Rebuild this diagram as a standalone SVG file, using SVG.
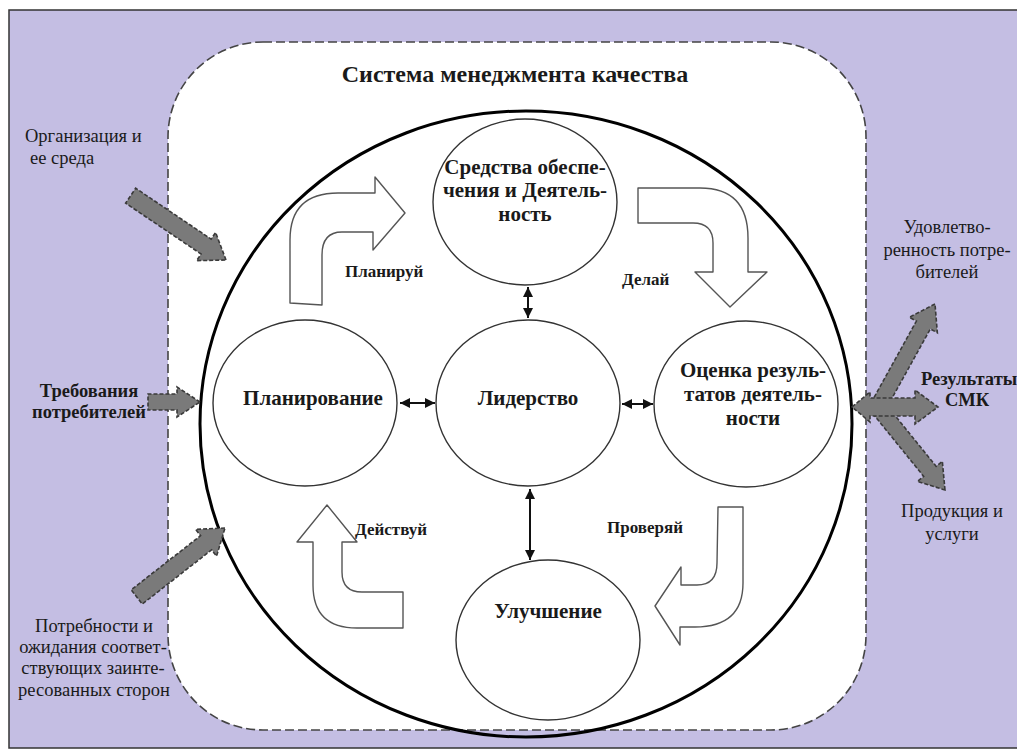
<svg xmlns="http://www.w3.org/2000/svg" width="1017" height="756" viewBox="0 0 1017 756">
<style>
.t{font-family:"Liberation Serif","Times New Roman",serif;fill:#1a1a1a}
.b{font-weight:bold}
.c{text-anchor:middle}
.node{fill:#fff;stroke:#333;stroke-width:1.4}
.blk{fill:#fff;stroke:#555;stroke-width:1.4;stroke-linejoin:round}
.gray{fill:#7a7a7a;stroke:#3a3a3a;stroke-width:1.6;stroke-dasharray:4 2}
.dbl{stroke:#111;stroke-width:2;fill:none;marker-start:url(#ah);marker-end:url(#ah)}
.lab{font-size:18.5px}
.nt{font-size:21px}
.pd{font-size:17px}
</style>
<defs>
<marker id="ah" viewBox="0 0 10 10" refX="10" refY="5" markerWidth="5" markerHeight="5" orient="auto-start-reverse" markerUnits="strokeWidth">
<path d="M0,0 L10,5 L0,10 Z" fill="#111"/>
</marker>
</defs>
<rect x="0" y="0" width="1017" height="756" fill="#fff"/>
<rect x="9" y="10" width="1030" height="738" fill="#c4bee3" stroke="#333" stroke-width="1.5"/>
<rect id="qms" x="168" y="42" width="698" height="688" rx="95" ry="95" fill="#fff" stroke="#444" stroke-width="1.6" stroke-dasharray="9 4"/>
<text class="t b c" x="515" y="82" font-size="24">Система менеджмента качества</text>
<ellipse cx="526" cy="424" rx="326" ry="313" fill="none" stroke="#000" stroke-width="3"/>

<g id="connectors">
<line class="dbl" x1="400" y1="403" x2="435" y2="403"/>
<line class="dbl" x1="622" y1="404" x2="653" y2="404"/>
<line class="dbl" x1="528" y1="287" x2="528" y2="318"/>
<line class="dbl" x1="530" y1="489" x2="530" y2="560"/>
<path class="blk" d="M290,303 L290,240 Q290,193 338,193 L375,193 L375,177 L405,213 L373,250 L373,232 L342,232 Q322,232 322,255 L322,305 Z"/>
<path class="blk" d="M638,188 L700,188 Q748,188 748,238 L748,272 L767,272 L730,307 L695,272 L713,272 L713,243 Q713,223 693,223 L638,223 Z"/>
<path class="blk" d="M327,505 L357,542 L342,542 L342,572 Q342,592 362,592 L403,592 L403,628 L357,628 Q313,628 313,585 L313,542 L297,542 Z"/>
<path class="blk" d="M718,507 L743,507 L743,583 Q743,627 695,627 L680,627 L680,645 L655,606 L681,567 L681,585 L697,585 Q717,585 717,563 Z"/>
<polygon class="gray" transform="translate(226,260) rotate(34)" points="0,0 -24,-17 -24,-9 -115,-9 -115,9 -24,9 -24,17"/>
<polygon class="gray" transform="translate(200,402)" points="0,0 -23,-15 -23,-8 -52,-8 -52,8 -23,8 -23,15"/>
<polygon class="gray" transform="translate(225,528) rotate(-38)" points="0,0 -24,-17 -24,-9 -112,-9 -112,9 -24,9 -24,17"/>
<polygon class="gray" transform="translate(935,304) rotate(-61)" points="0,0 -24,-16 -24,-8 -114,-8 -114,8 -24,8 -24,16"/>
<polygon class="gray" transform="translate(945,490) rotate(51)" points="0,0 -24,-16 -24,-8 -104,-8 -104,8 -24,8 -24,16"/>
<polygon class="gray" points="852,407 870,392 870,398 915,398 915,390 938,407 915,424 915,416 870,416 870,422"/>
</g>

<g id="node-resources">
<ellipse class="node" cx="525" cy="202" rx="92" ry="83"/>
<text class="t b c nt" x="525" y="174">Средства обеспе-</text>
<text class="t b c nt" x="525" y="197">чения и Деятель-</text>
<text class="t b c nt" x="525" y="221">ность</text>
</g>
<g id="node-planning">
<ellipse class="node" cx="305" cy="403" rx="92" ry="83"/>
<text class="t b c nt" x="313" y="405">Планирование</text>
</g>
<g id="node-leadership">
<ellipse class="node" cx="528" cy="403" rx="92" ry="83"/>
<text class="t b c nt" x="528" y="405">Лидерство</text>
</g>
<g id="node-evaluation">
<ellipse class="node" cx="746" cy="404" rx="92" ry="83"/>
<text class="t b c nt" x="753" y="377">Оценка резуль-</text>
<text class="t b c nt" x="753" y="401">татов деятель-</text>
<text class="t b c nt" x="753" y="425">ности</text>
</g>
<g id="node-improvement">
<ellipse class="node" cx="548" cy="640" rx="92" ry="80"/>
<text class="t b c nt" x="548" y="618">Улучшение</text>
</g>

<g id="label-plan"><text class="t b pd" x="345" y="277">Планируй</text></g>
<g id="label-do"><text class="t b pd" x="622" y="285">Делай</text></g>
<g id="label-act"><text class="t b pd" x="355" y="535">Действуй</text></g>
<g id="label-check"><text class="t b pd" x="607" y="533">Проверяй</text></g>

<g id="in-org">
<text class="t lab" x="25" y="142">Организация и</text>
<text class="t lab" x="30" y="164">ее среда</text>
</g>
<g id="in-req">
<text class="t b c lab" x="89" y="397">Требования</text>
<text class="t b c lab" x="89" y="418">потребителей</text>
</g>
<g id="in-needs">
<text class="t c lab" x="94" y="632">Потребности и</text>
<text class="t c lab" x="93" y="653">ожидания соответ-</text>
<text class="t c lab" x="93" y="674">ствующих заинте-</text>
<text class="t c lab" x="94" y="696">ресованных сторон</text>
</g>
<g id="out-satisfaction">
<text class="t c lab" x="947" y="233">Удовлетво-</text>
<text class="t c lab" x="947" y="256">ренность потре-</text>
<text class="t c lab" x="947" y="278">бителей</text>
</g>
<g id="out-results">
<text class="t b lab" x="921" y="385">Результаты</text>
<text class="t b c lab" x="967" y="406">СМК</text>
</g>
<g id="out-products">
<text class="t c lab" x="952" y="517">Продукция и</text>
<text class="t c lab" x="952" y="540">услуги</text>
</g>
</svg>
